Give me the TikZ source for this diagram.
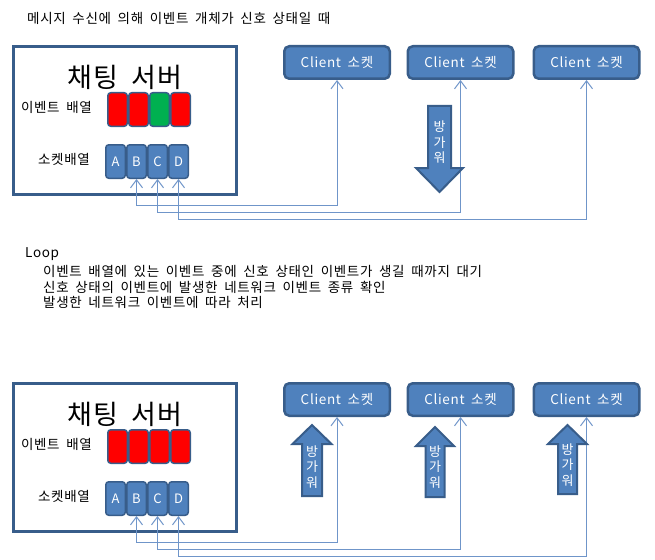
\documentclass[tikz,border=0pt]{standalone}
\usepackage{fontspec}
\setmainfont{Noto Sans CJK KR}[LetterSpace=5, WordSpace=1.8]
\usetikzlibrary{arrows.meta, positioning, calc}
\definecolor{accent}{HTML}{4F81BD}
\definecolor{accentdk}{HTML}{385D8A}
\definecolor{evred}{HTML}{FF0000}
\definecolor{evgreen}{HTML}{00B050}
\definecolor{wire}{HTML}{6F95C9}

\begin{document}
\begin{tikzpicture}[x=1pt, y=-1pt,
  server/.style={rectangle, draw=accentdk, line width=3pt, fill=white,
    minimum width=223pt, minimum height=148pt},
  title/.style={font=\fontsize{27}{30}\selectfont, inner sep=0pt},
  txt/.style={font=\fontsize{13.5}{16}\selectfont, inner sep=0pt},
  cell/.style={rectangle, rounded corners=3pt, draw=accentdk, line width=1.5pt,
    minimum width=19.5pt, minimum height=33.5pt, inner sep=0pt},
  sock/.style={cell, fill=accent, text=white, font=\fontsize{13}{15}\selectfont},
  client/.style={rectangle, rounded corners=5pt, draw=accentdk, line width=2.5pt,
    fill=accent, text=white, minimum width=105.5pt, minimum height=32.5pt,
    font=\fontsize{13.5}{16}\selectfont},
  bigarrow/.style={draw=accentdk, line width=2pt, fill=accent},
  wave/.style={text=white, align=center, font=\fontsize{13}{15.5}\selectfont, inner sep=0pt},
  conn/.style={{Straight Barb[length=8pt,width=12pt]}-{Straight Barb[length=8pt,width=12pt]},
    draw=wire, line width=1pt}
]
\useasboundingbox (0,0) rectangle (655,559);

% 윗부분: 신호 상태일 때
\node[txt, anchor=west] (cap) at (27,18) {메시지 수신에 의해 이벤트 개체가 신호 상태일 때};

\node[server] (tsrv) at (125,120.5) {};
\node[title] (ttitle) at (125,77) {채팅 서버};
\node[txt, anchor=east] (tevl) at (92,107) {이벤트 배열};
\node[txt, anchor=east] (tsol) at (90,159) {소켓배열};
\foreach \col [count=\i] in {evred,evred,evgreen,evred}
  \node[cell, fill=\col] (te\i) at (96.5+21*\i,109.5) {};
\foreach \s [count=\i] in {A,B,C,D}
  \node[sock] (ts\s) at (94.5+21*\i,161.5) {\s};

\node[client] (tc1) at (337,62.5) {Client 소켓};
\node[client] (tc2) at (460.5,62.5) {Client 소켓};
\node[client] (tc3) at (586.5,62.5) {Client 소켓};

\coordinate (tlane1) at (0,205);
\coordinate (tlane2) at (0,212);
\coordinate (tlane3) at (0,219);
\draw[conn] (tc1.south) |- (tsB.south |- tlane1) -- (tsB.south);
\draw[conn] (tc2.south) |- (tsC.south |- tlane2) -- (tsC.south);
\draw[conn] (tc3.south) |- (tsD.south |- tlane3) -- (tsD.south);

\draw[bigarrow] (428,106) -- (451,106) -- (451,168) -- (463,168) -- (439.5,192)
  -- (416,168) -- (428,168) -- cycle;
\node[wave] (tw) at (439.5,142.5) {방\\가\\워};

% 가운데 설명
\node[txt, anchor=west] (loop) at (25,254) {Loop};
\node[txt, anchor=west] (do1) at (43,271) {이벤트 배열에 있는 이벤트 중에 신호 상태인 이벤트가 생길 때까지 대기};
\node[txt, anchor=west] (do2) at (43,287) {신호 상태의 이벤트에 발생한 네트워크 이벤트 종류 확인};
\node[txt, anchor=west] (do3) at (43,302) {발생한 네트워크 이벤트에 따라 처리};

% 아랫부분: 처리 후
\begin{scope}[shift={(0,337)}]
\node[server] (bsrv) at (125,120.5) {};
\node[title] (btitle) at (125,77) {채팅 서버};
\node[txt, anchor=east] (bevl) at (92,107) {이벤트 배열};
\node[txt, anchor=east] (bsol) at (90,159) {소켓배열};
\foreach \col [count=\i] in {evred,evred,evred,evred}
  \node[cell, fill=\col] (be\i) at (96.5+21*\i,109.5) {};
\foreach \s [count=\i] in {A,B,C,D}
  \node[sock] (bs\s) at (94.5+21*\i,161.5) {\s};

\node[client] (bc1) at (337,62.5) {Client 소켓};
\node[client] (bc2) at (460.5,62.5) {Client 소켓};
\node[client] (bc3) at (586.5,62.5) {Client 소켓};

\coordinate (blane1) at (0,205);
\coordinate (blane2) at (0,212);
\coordinate (blane3) at (0,219);
\draw[conn] (bc1.south) |- (bsB.south |- blane1) -- (bsB.south);
\draw[conn] (bc2.south) |- (bsC.south |- blane2) -- (bsC.south);
\draw[conn] (bc3.south) |- (bsD.south |- blane3) -- (bsD.south);

\draw[bigarrow] (302,159) -- (322,159) -- (322,107) -- (331.5,107) -- (312,88)
  -- (292.5,107) -- (302,107) -- cycle;
\node[wave] (bw1) at (312,130) {방\\가\\워};
\draw[bigarrow] (425.5,160) -- (444.5,160) -- (444.5,109) -- (454,109) -- (435,90)
  -- (416,109) -- (425.5,109) -- cycle;
\node[wave] (bw2) at (435,130) {방\\가\\워};
\draw[bigarrow] (558,157) -- (577,157) -- (577,107) -- (587,107) -- (567.5,88)
  -- (548,107) -- (558,107) -- cycle;
\node[wave] (bw3) at (567.5,128) {방\\가\\워};
\end{scope}
\end{tikzpicture}
\end{document}
